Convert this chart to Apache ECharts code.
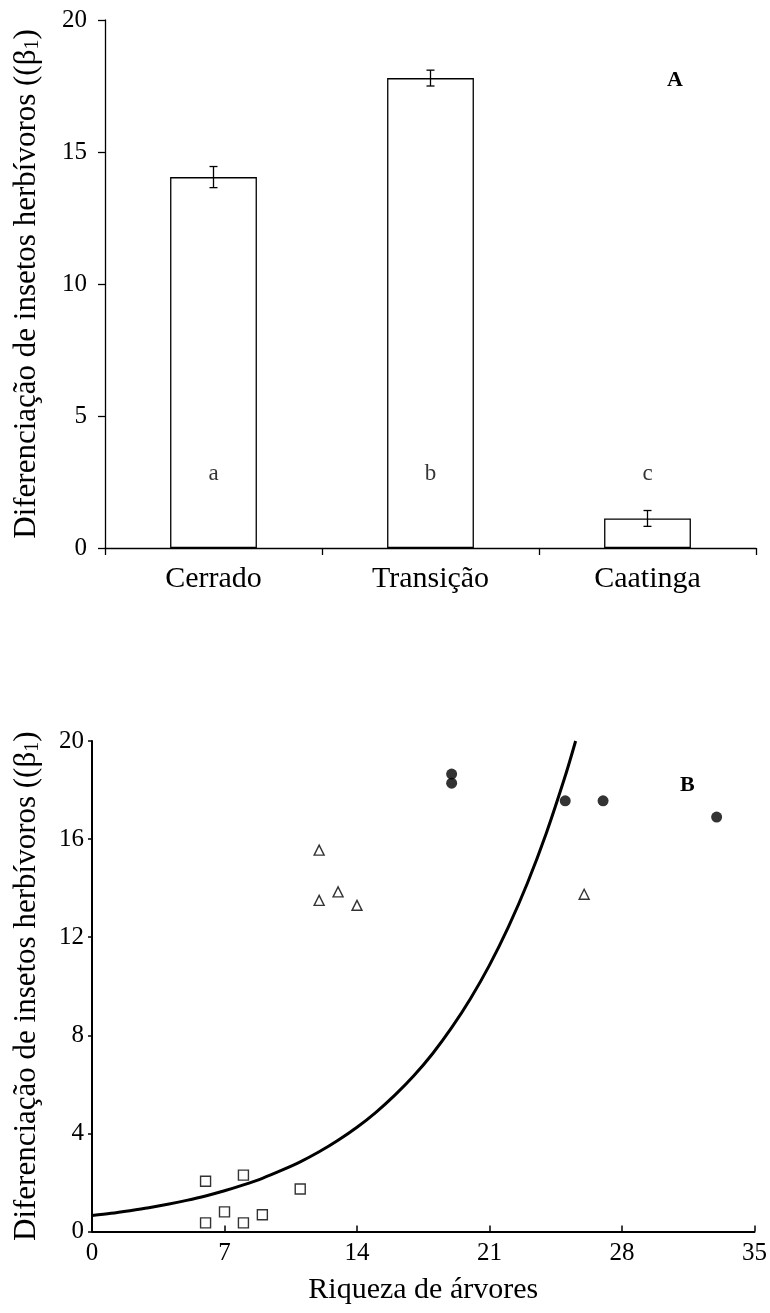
<!DOCTYPE html>
<html>
<head>
	<meta charset="utf-8"/>
	<title>Diferenciação de insetos herbívoros</title>
	<style>
		* { margin: 0; padding: 0; }
		body { background: #fff; }
		#chart { width: 770px; height: 1313px; }
	</style>
</head>
<body>
	<div id="chart"></div>
	<script src="https://cdn.jsdelivr.net/npm/echarts@6/dist/echarts.min.js"></script>
	<script>
		// painel A: barras por ambiente
		var categories = ['Cerrado', 'Transição', 'Caatinga'];
		var barMeans = [14.05, 17.8, 1.12];
		var barErrors = [0.4, 0.3, 0.3];
		var groupLetters = ['a', 'b', 'c'];
		var letterLevel = [2.8, 2.8, 2.8];

		// painel B: pontos por riqueza de árvores
		var squarePts = [[6, 2.05], [6, 0.35], [7, 0.8], [8, 2.3], [8, 0.35], [9, 0.68], [11, 1.73]];
		var trianglePts = [[12, 15.55], [12, 13.5], [13, 13.85], [14, 13.3], [26, 13.75]];
		var circlePts = [[19, 18.65], [19, 18.28], [25, 17.56], [27, 17.56], [33, 16.9]];

		// curva ajustada
		var curveX = [0, 1, 2, 3, 4, 5, 6, 7, 8, 9, 10, 11, 12, 13, 14, 15, 16, 17, 18, 19, 20, 21, 22, 23, 24, 25, 25.55];
		var curveY = [0.65, 0.74, 0.85, 0.97, 1.11, 1.27, 1.45, 1.66, 1.9, 2.17, 2.49, 2.84, 3.25, 3.72, 4.25, 4.86,
			5.56, 6.35, 7.26, 8.31, 9.5, 10.86, 12.42, 14.2, 16.24, 18.57, 20];

		var font = 'Liberation Serif';
		var yTitle = 'Diferenciação de insetos herbívoros ((β{sub|1})';
		var titleRich = {
			sub: { fontSize: 20, fontFamily: font, color: '#000', verticalAlign: 'bottom', padding: [12, 0, 0, 0] }
		};

		var myChart = echarts.init(document.getElementById('chart'));

		var errData = barMeans.map(function (m, i) {
			return [i, m - barErrors[i], m + barErrors[i]];
		});

		var option = {
			animation: false,
			backgroundColor: '#fff',
			grid: [
				{ left: 105, top: 20, width: 651, height: 528 },
				{ left: 92, top: 741, width: 666, height: 490.5 }
			],
			xAxis: [
				{
					gridIndex: 0,
					type: 'category',
					data: categories,
					axisLine: { lineStyle: { color: '#000', width: 1.3 } },
					axisTick: { show: true, length: 7, interval: 0, lineStyle: { color: '#000', width: 1.3 } },
					axisLabel: { margin: 16, color: '#000', fontSize: 30, fontFamily: font, interval: 0 },
					splitLine: { show: false }
				},
				{
					gridIndex: 1,
					type: 'value',
					min: 0,
					max: 35,
					interval: 7,
					name: 'Riqueza de árvores',
					nameLocation: 'middle',
					nameGap: 44,
					nameTextStyle: { color: '#000', fontSize: 30, fontFamily: font },
					axisLine: { onZero: false, lineStyle: { color: '#000', width: 2 } },
					axisTick: { inside: true, length: 6, lineStyle: { color: '#000', width: 1.5 } },
					axisLabel: { margin: 9, color: '#000', fontSize: 25, fontFamily: font },
					splitLine: { show: false }
				}
			],
			yAxis: [
				{
					gridIndex: 0,
					type: 'value',
					min: 0,
					max: 20,
					interval: 5,
					name: yTitle,
					nameLocation: 'middle',
					nameGap: 62,
					nameTextStyle: { color: '#000', fontSize: 31, fontFamily: font, rich: titleRich },
					axisLine: { show: true, lineStyle: { color: '#000', width: 1.3 } },
					axisTick: { show: true, length: 7, lineStyle: { color: '#000', width: 1.3 } },
					axisLabel: { margin: 18, color: '#000', fontSize: 25, fontFamily: font },
					splitLine: { show: false }
				},
				{
					gridIndex: 1,
					type: 'value',
					min: 0,
					max: 20,
					interval: 4,
					name: yTitle,
					nameLocation: 'middle',
					nameGap: 49,
					nameTextStyle: { color: '#000', fontSize: 31, fontFamily: font, rich: titleRich },
					axisLine: { show: true, onZero: false, lineStyle: { color: '#000', width: 2 } },
					axisTick: { show: true, length: 4, lineStyle: { color: '#000', width: 1.5 } },
					axisLabel: { margin: 8, color: '#000', fontSize: 25, fontFamily: font },
					splitLine: { show: false }
				}
			],
			graphic: [
				{ type: 'text', left: 667, top: 69, style: { text: 'A', font: 'bold 22px "Liberation Serif"', fill: '#000' } },
				{ type: 'text', left: 680, top: 774, style: { text: 'B', font: 'bold 22px "Liberation Serif"', fill: '#000' } }
			],
			series: [
				{
					type: 'bar',
					xAxisIndex: 0,
					yAxisIndex: 0,
					data: barMeans,
					barWidth: '40%',
					itemStyle: { color: '#fff', borderColor: '#000', borderWidth: 1.3 }
				},
				{
					type: 'custom',
					xAxisIndex: 0,
					yAxisIndex: 0,
					data: errData,
					renderItem: function (params, api) {
						var lo = api.coord([api.value(0), api.value(1)]);
						var hi = api.coord([api.value(0), api.value(2)]);
						var w = 4;
						var st = { stroke: '#000', lineWidth: 1.3 };
						return {
							type: 'group',
							children: [
								{ type: 'line', shape: { x1: lo[0], y1: lo[1], x2: hi[0], y2: hi[1] }, style: st },
								{ type: 'line', shape: { x1: lo[0] - w, y1: lo[1], x2: lo[0] + w, y2: lo[1] }, style: st },
								{ type: 'line', shape: { x1: hi[0] - w, y1: hi[1], x2: hi[0] + w, y2: hi[1] }, style: st }
							]
						};
					},
					z: 5
				},
				{
					type: 'scatter',
					xAxisIndex: 0,
					yAxisIndex: 0,
					symbolSize: 0,
					data: letterLevel.map(function (v, i) { return { value: v, name: groupLetters[i] }; }),
					label: {
						show: true,
						position: 'inside',
						formatter: function (p) { return p.name; },
						color: '#000',
						fontSize: 23,
						fontFamily: font
					}
				},
				{
					type: 'line',
					xAxisIndex: 1,
					yAxisIndex: 1,
					data: curveX.map(function (x, i) { return [x, curveY[i]]; }),
					smooth: 0.3,
					showSymbol: false,
					lineStyle: { color: '#000', width: 3 }
				},
				{
					type: 'scatter',
					xAxisIndex: 1,
					yAxisIndex: 1,
					data: squarePts,
					symbol: 'rect',
					symbolSize: 10,
					itemStyle: { color: '#fff', borderColor: '#000', borderWidth: 1.4 }
				},
				{
					type: 'scatter',
					xAxisIndex: 1,
					yAxisIndex: 1,
					data: trianglePts,
					symbol: 'triangle',
					symbolSize: 10,
					itemStyle: { color: '#fff', borderColor: '#000', borderWidth: 1.4 }
				},
				{
					type: 'scatter',
					xAxisIndex: 1,
					yAxisIndex: 1,
					data: circlePts,
					symbol: 'circle',
					symbolSize: 11,
					itemStyle: { color: '#000' }
				}
			]
		};

		myChart.setOption(option);
	</script>
</body>
</html>
